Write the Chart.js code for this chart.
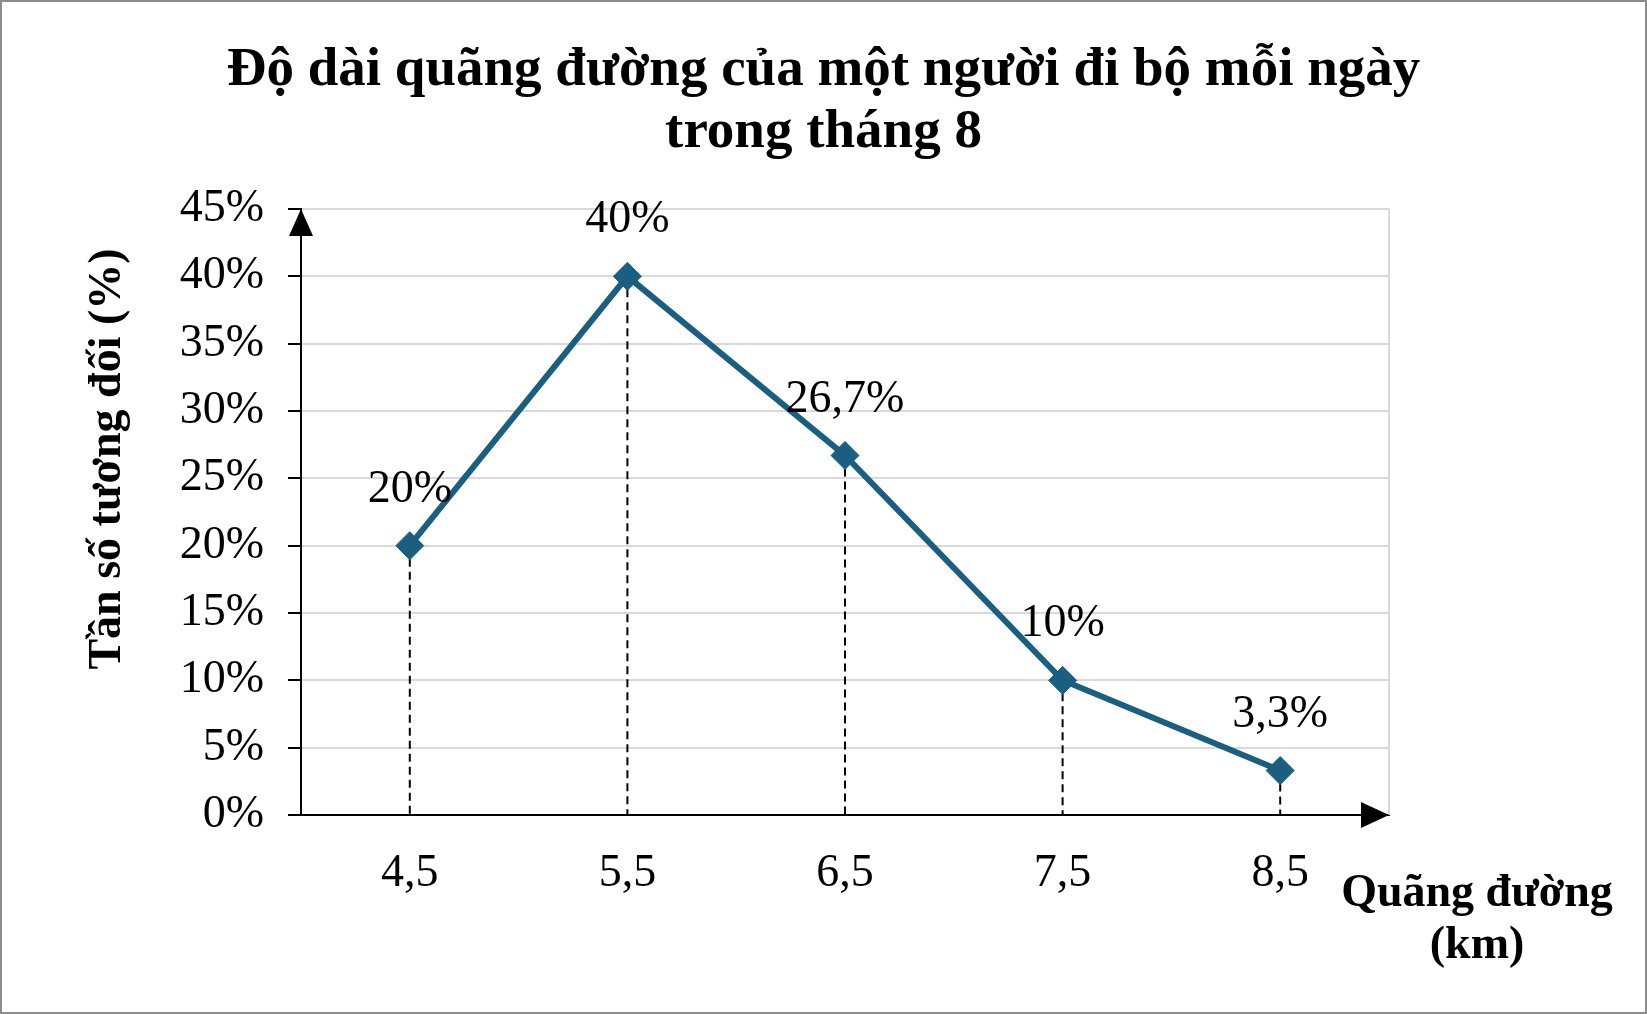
<!DOCTYPE html>
<html lang="vi">
<head>
<meta charset="UTF-8">
<title>Độ dài quãng đường của một người đi bộ mỗi ngày</title>
<script src="https://cdn.jsdelivr.net/npm/chart.js@4.4.1/dist/chart.umd.min.js"></script>
<style>
    html, body { margin: 0; padding: 0; background: #fff; overflow: hidden; }
    .chart-box { position: relative; width: 1647px; height: 1014px; }
</style>
</head>
<body>
<div class="chart-box"><canvas id="walkChart"></canvas></div>
<script>
// 数据
const distanceLabels = ['4,5', '5,5', '6,5', '7,5', '8,5'];
const relativeFreq = [20, 40, 26.7, 10, 3.3];
const yMax = 45;
const yStep = 5;

// 文字
const titleLines = ['Độ dài quãng đường của một người đi bộ mỗi ngày', 'trong tháng 8'];
const yAxisTitle = 'Tần số tương đối (%)';
const xAxisTitleLines = ['Quãng đường', '(km)'];

const LINE_COLOR = '#1A5E80';
const GRID_COLOR = '#D9D9D9';
const SERIF = "'Liberation Serif', 'Times New Roman', serif";

// 格式化百分比 (dùng dấu phẩy)
function formatPercent(v) {
    return String(v).replace('.', ',') + '%';
}

// 虚线 + 右边框
const dropLinePlugin = {
    id: 'dropLines',
    beforeDatasetsDraw(chart) {
        const { ctx, chartArea, scales: { y } } = chart;
        const meta = chart.getDatasetMeta(0);
        const base = y.getPixelForValue(0);

        ctx.save();
        ctx.strokeStyle = GRID_COLOR;
        ctx.lineWidth = 2;
        ctx.beginPath();
        ctx.moveTo(chartArea.right, chartArea.top);
        ctx.lineTo(chartArea.right, chartArea.bottom);
        ctx.stroke();

        ctx.strokeStyle = '#000';
        ctx.lineWidth = 2;
        ctx.setLineDash([8, 5]);
        meta.data.forEach(pt => {
            ctx.beginPath();
            ctx.moveTo(pt.x, pt.y);
            ctx.lineTo(pt.x, base);
            ctx.stroke();
        });
        ctx.restore();
    }
};

// 数据标签
const valueLabelPlugin = {
    id: 'valueLabels',
    afterDatasetsDraw(chart) {
        const { ctx } = chart;
        const meta = chart.getDatasetMeta(0);
        ctx.save();
        ctx.font = '46px ' + SERIF;
        ctx.fillStyle = '#000';
        ctx.textAlign = 'center';
        ctx.textBaseline = 'middle';
        meta.data.forEach((pt, i) => {
            ctx.fillText(formatPercent(relativeFreq[i]), pt.x, pt.y - 56);
        });
        ctx.restore();
    }
};

// 坐标轴箭头、标题、外框
const decorPlugin = {
    id: 'decor',
    afterDraw(chart) {
        const { ctx, chartArea } = chart;
        const { left, right, top, bottom } = chartArea;
        ctx.save();

        // 坐标轴
        ctx.strokeStyle = '#000';
        ctx.lineWidth = 2;
        ctx.beginPath();
        ctx.moveTo(left, bottom);
        ctx.lineTo(left, top + 10);
        ctx.moveTo(left - 13, bottom);
        ctx.lineTo(right - 10, bottom);
        ctx.stroke();

        ctx.fillStyle = '#000';
        ctx.beginPath();
        ctx.moveTo(left, top);
        ctx.lineTo(left - 12, top + 27);
        ctx.lineTo(left + 12, top + 27);
        ctx.closePath();
        ctx.fill();

        ctx.beginPath();
        ctx.moveTo(right, bottom);
        ctx.lineTo(right - 28, bottom - 13);
        ctx.lineTo(right - 28, bottom + 13);
        ctx.closePath();
        ctx.fill();

        // 主标题
        ctx.textAlign = 'center';
        ctx.textBaseline = 'middle';
        ctx.font = 'bold 55px ' + SERIF;
        ctx.fillText(titleLines[0], 823.5, 71);
        ctx.fillText(titleLines[1], 823.5, 133);

        // X 轴标题
        ctx.font = 'bold 46px ' + SERIF;
        ctx.fillText(xAxisTitleLines[0], 1477, 894);
        ctx.fillText(xAxisTitleLines[1], 1477, 946);

        // Y 轴标题
        ctx.save();
        ctx.translate(108, 459);
        ctx.rotate(-Math.PI / 2);
        ctx.fillText(yAxisTitle, 0, 0);
        ctx.restore();

        // 外框
        ctx.strokeStyle = '#8C8C8C';
        ctx.lineWidth = 2;
        ctx.strokeRect(1, 1, chart.width - 2, chart.height - 2);
        ctx.restore();
    }
};

// 初始化图表
function initializeWalkChart() {
    const ctx = document.getElementById('walkChart');

    const data = {
        labels: distanceLabels,
        datasets: [{
            label: 'Tần số tương đối',
            data: relativeFreq,
            borderColor: LINE_COLOR,
            backgroundColor: LINE_COLOR,
            borderWidth: 6,
            tension: 0,
            pointStyle: 'rectRot',
            pointRadius: 14,
            pointBackgroundColor: LINE_COLOR,
            pointBorderColor: LINE_COLOR,
            pointBorderWidth: 1
        }]
    };

    const config = {
        type: 'line',
        data: data,
        options: {
            responsive: true,
            maintainAspectRatio: false,
            animation: false,
            layout: {
                padding: { top: 209, right: 258, bottom: 0, left: 0 }
            },
            plugins: {
                legend: { display: false },
                tooltip: { enabled: false },
                title: { display: false }
            },
            scales: {
                x: {
                    offset: true,
                    afterFit(scale) { scale.height = 199; },
                    grid: { display: false, drawTicks: false },
                    border: { display: true, color: '#000', width: 2 },
                    ticks: {
                        color: '#000',
                        padding: 31,
                        font: { family: SERIF, size: 46 }
                    }
                },
                y: {
                    min: 0,
                    max: yMax,
                    afterFit(scale) { scale.width = 301; },
                    grid: {
                        color: GRID_COLOR,
                        lineWidth: 2,
                        tickColor: '#000',
                        tickLength: 13,
                        tickWidth: 2
                    },
                    border: { display: true, color: '#000', width: 2 },
                    ticks: {
                        stepSize: yStep,
                        color: '#000',
                        padding: 24,
                        font: { family: SERIF, size: 46 },
                        callback: v => v + '%'
                    }
                }
            }
        },
        plugins: [dropLinePlugin, valueLabelPlugin, decorPlugin]
    };

    new Chart(ctx, config);
}

document.addEventListener('DOMContentLoaded', initializeWalkChart);
</script>
</body>
</html>
